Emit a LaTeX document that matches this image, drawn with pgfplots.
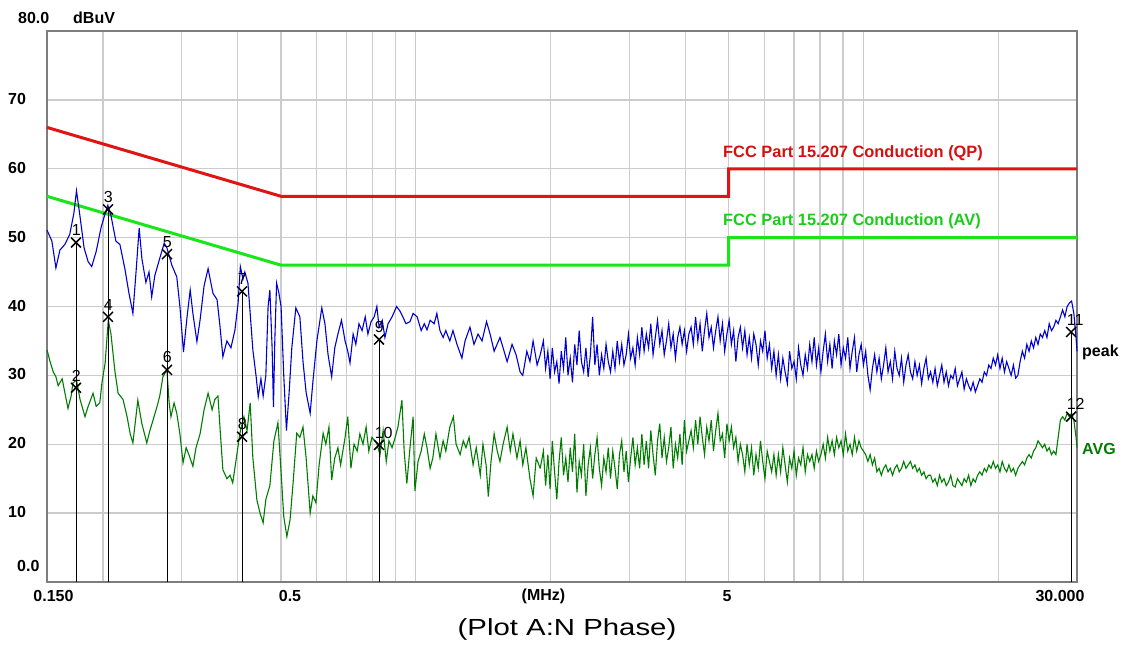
\documentclass[border=0pt]{standalone}
\usepackage{fontspec}
\setmainfont{Liberation Sans}
\usepackage{pgfplots}
\usepackage{pgfplotstable}
\pgfplotsset{compat=1.18}

\definecolor{limQP}{RGB}{225,20,20}
\definecolor{limAV}{RGB}{25,230,25}
\definecolor{txtQP}{RGB}{215,15,15}
\definecolor{txtAV}{RGB}{25,205,25}
\definecolor{peakblue}{RGB}{0,0,210}
\definecolor{avggreen}{RGB}{0,125,0}
\definecolor{gridgray}{RGB}{204,204,204}
\definecolor{framegray}{RGB}{125,125,125}

\newcommand\lbl{\fontsize{16}{16}\selectfont\bfseries}

% x values are log10(f / MHz)
\pgfplotstableread{
lg dB
-0.8239 51.1
-0.813 49.5
-0.804 45.6
-0.795 48.2
-0.784 49.0
-0.773 50.5
-0.764 53.5
-0.758 56.8
-0.750 53.0
-0.741 48.5
-0.732 46.5
-0.724 45.8
-0.714 48.0
-0.703 51.5
-0.694 53.5
-0.688 54.7
-0.681 53.2
-0.670 49.5
-0.661 49.0
-0.650 45.5
-0.641 42.0
-0.632 39.0
-0.625 45.0
-0.618 51.4
-0.612 47.0
-0.603 43.5
-0.596 45.0
-0.590 41.4
-0.583 44.5
-0.572 47.0
-0.562 49.2
-0.556 48.5
-0.545 46.0
-0.534 44.3
-0.527 40.0
-0.519 33.4
-0.511 38.5
-0.504 42.4
-0.498 39.0
-0.489 34.9
-0.482 38.0
-0.473 43.0
-0.464 45.5
-0.458 43.5
-0.453 41.9
-0.444 41.0
-0.438 37.5
-0.431 32.7
-0.422 35.0
-0.413 34.0
-0.404 36.6
-0.397 40.5
-0.392 45.8
-0.386 44.0
-0.382 45.0
-0.375 43.4
-0.370 39.0
-0.364 33.7
-0.357 30.0
-0.352 26.9
-0.346 29.5
-0.341 27.0
-0.335 30.0
-0.330 40.0
-0.326 42.4
-0.321 34.0
-0.318 25.4
-0.315 35.0
-0.311 43.4
-0.306 42.0
-0.301 40.0
-0.295 30.0
-0.289 22.0
-0.283 27.5
-0.277 34.0
-0.268 39.8
-0.259 38.5
-0.252 32.0
-0.245 27.5
-0.236 24.5
-0.230 29.0
-0.221 35.0
-0.210 39.8
-0.203 37.5
-0.196 33.0
-0.188 29.8
-0.181 34.0
-0.174 36.0
-0.166 38.0
-0.158 35.0
-0.152 33.5
-0.147 31.8
-0.140 36.0
-0.134 34.5
-0.127 37.5
-0.120 36.5
-0.113 38.5
-0.107 36.0
-0.100 37.8
-0.093 38.5
-0.087 40.0
-0.082 37.0
-0.075 38.0
-0.069 35.5
-0.062 37.5
-0.053 38.5
-0.043 40.0
-0.035 39.3
-0.029 38.5
-0.022 37.5
-0.013 37.8
-0.006 39.0
0.003 38.5
0.012 36.5
0.019 37.5
0.025 36.6
0.032 38.0
0.041 37.5
0.047 39.0
0.054 36.5
0.061 35.5
0.067 36.5
0.076 35.0
0.083 36.5
0.092 34.5
0.103 32.5
0.110 35.0
0.121 37.0
0.130 34.5
0.139 36.0
0.148 35.0
0.158 37.8
0.166 36.0
0.175 33.5
0.188 35.5
0.195 34.0
0.204 32.0
0.215 34.5
0.224 33.0
0.233 30.5
0.239 30.0
0.248 33.5
0.255 32.0
0.262 35.0
0.271 31.5
0.278 33.0
}\peaklow

\pgfplotstableread{
lg dB
-0.8239 33.7
-0.817 32.0
-0.810 30.5
-0.804 29.8
-0.799 28.5
-0.790 29.5
-0.784 27.5
-0.777 25.2
-0.770 27.0
-0.766 28.9
-0.758 29.3
-0.750 26.5
-0.739 24.0
-0.732 25.5
-0.721 27.4
-0.714 25.5
-0.706 26.0
-0.701 29.0
-0.694 31.8
-0.687 38.0
-0.681 36.0
-0.672 30.5
-0.665 27.4
-0.654 26.5
-0.645 24.0
-0.638 21.5
-0.632 20.2
-0.627 23.0
-0.621 26.4
-0.612 23.0
-0.601 20.2
-0.594 22.0
-0.587 23.5
-0.578 25.5
-0.572 27.0
-0.565 29.8
-0.556 30.8
-0.551 26.0
-0.547 24.0
-0.540 26.0
-0.534 24.5
-0.527 21.5
-0.520 17.3
-0.513 19.5
-0.507 18.5
-0.498 16.8
-0.491 19.5
-0.482 21.5
-0.473 25.0
-0.464 27.4
-0.455 25.0
-0.449 26.5
-0.442 27.0
-0.437 22.0
-0.431 16.3
-0.422 15.0
-0.415 15.5
-0.409 14.4
-0.402 17.5
-0.393 21.6
-0.384 24.0
-0.377 22.0
-0.370 26.0
-0.364 18.0
-0.355 11.9
-0.348 10.0
-0.341 8.6
-0.335 12.0
-0.326 14.0
-0.317 20.5
-0.308 23.1
-0.301 16.0
-0.295 9.5
-0.288 6.6
-0.281 9.0
-0.274 14.5
-0.266 21.6
-0.259 21.0
-0.252 22.5
-0.245 18.0
-0.236 10.0
-0.230 12.5
-0.223 11.5
-0.216 17.0
-0.207 21.6
-0.201 20.0
-0.194 22.5
-0.188 14.8
-0.181 18.0
-0.174 19.5
-0.168 17.0
-0.158 21.0
-0.152 24.0
-0.145 16.5
-0.138 20.0
-0.131 19.0
-0.125 21.5
-0.118 20.0
-0.111 22.5
-0.105 19.0
-0.098 21.0
-0.087 20.1
-0.080 18.5
-0.073 22.0
-0.066 17.5
-0.060 20.5
-0.053 19.5
-0.046 21.0
-0.040 22.5
-0.031 26.4
-0.026 19.0
-0.020 14.3
-0.013 19.5
-0.006 24.0
-0.002 13.2
0.005 17.5
0.012 19.0
0.019 21.5
0.025 19.5
0.032 16.5
0.038 18.0
0.045 21.5
0.054 18.0
0.061 20.5
0.067 19.0
0.076 22.5
0.084 24.0
0.090 20.0
0.099 18.5
0.106 20.5
0.112 19.5
0.119 21.0
0.128 17.0
0.135 19.5
0.144 15.5
0.150 20.0
0.157 17.0
0.162 12.4
0.168 17.5
0.175 21.5
0.182 19.0
0.188 17.5
0.195 20.0
0.204 22.5
0.211 19.0
0.217 21.5
0.226 18.0
0.233 20.5
0.239 17.0
0.246 19.5
0.255 15.0
0.262 12.5
0.269 18.0
0.278 16.5
}\avglow

% upper band, both detectors on one frequency grid
\pgfplotstableread{
lg peak avg
0.278 33.0 16.5
0.285 35.0 19.0
0.290 31.0 14.0
0.295 33.5 18.5
0.300 29.5 13.5
0.305 34.0 20.5
0.310 30.5 16.0
0.315 32.0 12.0
0.320 28.8 17.5
0.325 33.5 21.0
0.330 31.0 15.5
0.335 35.5 18.0
0.340 30.0 14.5
0.345 32.5 19.5
0.350 29.0 16.0
0.355 34.5 21.5
0.360 31.5 13.0
0.365 36.5 17.5
0.370 32.0 15.5
0.375 30.5 20.0
0.380 34.0 12.5
0.385 29.8 17.0
0.390 33.0 19.5
0.395 38.5 15.0
0.400 31.5 18.5
0.405 34.5 21.0
0.410 30.0 16.5
0.415 33.0 14.0
0.420 31.0 18.0
0.425 34.5 16.0
0.430 32.0 19.5
0.435 30.5 15.0
0.440 33.5 19.0
0.445 31.0 16.5
0.450 35.0 13.5
0.455 32.0 18.5
0.460 34.5 20.5
0.465 31.5 16.0
0.470 33.0 19.0
0.475 36.0 14.5
0.480 32.5 18.0
0.485 34.0 21.0
0.490 31.5 17.0
0.495 35.5 19.5
0.500 33.0 16.5
0.505 37.0 21.5
0.510 33.5 17.0
0.515 36.0 20.5
0.520 34.0 16.5
0.525 37.5 22.0
0.530 33.0 18.5
0.535 35.5 15.5
0.540 38.0 20.5
0.545 34.5 23.0
0.550 36.5 18.0
0.555 33.0 21.0
0.560 35.0 17.5
0.565 37.5 19.5
0.570 34.0 22.5
0.575 36.0 16.5
0.580 32.5 20.0
0.585 35.5 18.0
0.590 37.0 21.5
0.595 34.5 17.0
0.600 36.5 23.5
0.605 33.5 19.0
0.610 36.0 20.5
0.615 37.0 22.0
0.620 34.5 19.5
0.625 38.5 23.5
0.630 35.0 20.0
0.635 37.5 24.0
0.640 33.5 21.0
0.645 36.5 18.5
0.650 39.0 22.5
0.655 35.5 20.5
0.660 37.0 23.5
0.665 34.0 19.0
0.670 36.5 22.0
0.675 38.5 24.5
0.680 35.0 20.5
0.685 37.5 21.5
0.690 33.5 18.0
0.695 36.0 23.0
0.700 38.0 20.5
0.705 34.5 22.5
0.710 36.5 19.5
0.715 32.0 21.0
0.720 35.5 17.5
0.725 37.0 20.0
0.730 34.0 18.5
0.735 36.5 16.0
0.740 33.0 20.0
0.745 35.5 17.0
0.750 32.5 19.5
0.755 36.0 15.5
0.760 34.5 18.5
0.765 31.5 16.5
0.770 35.0 20.5
0.775 33.5 17.5
0.780 36.5 15.0
0.785 32.5 19.0
0.790 34.5 17.5
0.795 31.0 16.0
0.800 33.5 18.5
0.805 30.0 15.5
0.810 33.0 18.5
0.815 29.5 16.0
0.820 32.5 19.5
0.825 30.5 17.0
0.830 28.8 14.5
0.835 33.5 18.0
0.840 31.0 16.5
0.845 32.0 19.0
0.850 29.5 15.5
0.855 34.0 18.0
0.860 31.5 17.0
0.865 30.0 19.5
0.870 33.0 16.0
0.875 31.0 18.5
0.880 34.5 17.5
0.885 32.0 18.5
0.890 35.5 16.5
0.895 31.5 19.0
0.900 34.0 17.5
0.905 30.5 18.5
0.910 33.5 20.0
0.915 36.0 18.0
0.920 32.0 21.0
0.925 34.5 19.0
0.930 31.0 20.5
0.935 35.0 18.5
0.940 33.0 21.0
0.945 36.0 19.5
0.950 31.5 20.5
0.955 34.0 18.5
0.960 32.5 21.5
0.965 35.5 19.0
0.970 31.0 20.0
0.975 33.5 18.5
0.980 35.5 21.0
0.985 30.5 19.0
0.990 33.0 20.5
0.995 34.5 19.5
1.000 31.5 19.0
1.005 33.5 18.5
1.010 30.0 17.5
1.015 27.9 18.5
1.020 31.0 17.0
1.025 33.0 18.0
1.030 30.5 16.0
1.035 32.5 16.5
1.040 29.5 15.5
1.045 31.5 16.5
1.050 34.0 17.0
1.055 30.5 16.0
1.060 32.0 16.5
1.065 29.5 15.5
1.070 33.5 16.5
1.075 31.0 17.0
1.080 30.0 16.0
1.085 32.5 16.5
1.090 29.0 17.5
1.095 31.5 16.5
1.100 33.0 17.0
1.105 30.5 17.5
1.110 29.5 16.5
1.115 32.0 17.0
1.120 30.0 16.0
1.125 31.5 16.5
1.130 28.8 15.5
1.135 31.0 16.0
1.140 32.5 15.0
1.145 29.5 15.5
1.150 30.5 15.5
1.155 29.0 14.5
1.160 31.0 15.0
1.165 28.5 14.0
1.170 30.0 15.5
1.175 31.5 14.5
1.180 29.0 15.0
1.185 30.5 14.0
1.190 28.5 14.5
1.195 30.0 15.5
1.200 29.5 14.0
1.205 31.0 13.8
1.210 28.5 15.0
1.215 29.5 14.5
1.220 30.5 14.0
1.225 28.0 15.0
1.230 29.5 14.5
1.235 28.5 15.5
1.240 27.8 14.0
1.245 29.0 15.0
1.250 27.6 14.5
1.255 28.5 15.5
1.260 29.5 16.0
1.265 29.0 15.5
1.270 30.5 16.5
1.275 30.0 16.0
1.280 31.5 17.0
1.285 31.0 16.5
1.290 32.5 17.5
1.295 31.5 16.5
1.300 33.0 17.0
1.305 31.0 16.0
1.310 32.5 17.5
1.315 30.5 16.5
1.320 32.0 16.0
1.325 31.0 17.0
1.330 30.0 16.0
1.335 31.5 16.5
1.340 29.6 15.5
1.345 30.0 16.5
1.350 32.0 17.0
1.355 33.5 17.5
1.360 32.5 17.0
1.365 34.5 18.0
1.370 33.5 18.5
1.375 35.0 18.0
1.380 34.0 19.0
1.385 35.5 19.5
1.390 34.5 20.5
1.395 36.0 20.0
1.400 35.5 19.5
1.405 36.5 20.0
1.410 35.5 19.0
1.415 37.5 19.5
1.420 36.5 18.5
1.425 37.0 19.0
1.430 38.0 18.5
1.435 37.5 21.0
1.440 38.5 23.5
1.445 39.5 24.0
1.450 38.5 23.5
1.455 40.0 24.5
1.460 40.5 24.0
1.465 40.8 24.5
1.470 39.0 23.5
1.475 35.5 21.0
1.4771 33.5 19.5
}\hightab

\begin{document}
\begin{tikzpicture}
\fill[white] (-47pt,-66pt) rectangle (1078pt,582pt);
\begin{axis}[
  at={(0pt,0pt)}, anchor=south west,
  scale only axis, width=1030pt, height=551pt,
  xmin=-0.8239, xmax=1.4771, ymin=0, ymax=80,
  xtick={-0.6990,-0.5229,-0.3979,-0.3010,-0.2218,-0.1549,-0.0969,-0.0458,0,
         0.3010,0.4771,0.6021,0.6990,0.7782,0.8451,0.9031,0.9542,1,1.3010},
  ytick={10,20,...,70},
  xticklabels={}, yticklabels={},
  major tick length=0pt,
  xmajorgrids, ymajorgrids,
  major grid style={gridgray, line width=1.3pt},
  axis line style={framegray, line width=2.4pt},
  clip=false,
]
% limit lines
\addplot[limQP, line width=3pt] coordinates
  {(-0.8239,66) (-0.3010,56) (0.6990,56) (0.6990,60) (1.4771,60)};
\addplot[limAV, line width=3pt] coordinates
  {(-0.8239,56) (-0.3010,46) (0.6990,46) (0.6990,50) (1.4771,50)};
% average detector
\addplot[avggreen, line width=1.1pt] table[x=lg, y=dB] {\avglow};
\addplot[avggreen, line width=1.1pt] table[x=lg, y=avg] {\hightab};
% peak detector
\addplot[peakblue, line width=1.1pt] table[x=lg, y=dB] {\peaklow};
\addplot[peakblue, line width=1.1pt] table[x=lg, y=peak] {\hightab};
% markers
\addplot[black, line width=1pt, ycomb, mark=x, mark size=7pt,
  mark options={line width=1.5pt},
  nodes near coords, point meta=explicit symbolic,
  every node near coord/.append style={anchor=south west, xshift=-5pt,
    yshift=6pt, inner sep=0pt, text=black, font=\fontsize{16}{16}\selectfont}]
  table[x=lg, y=dB, meta=id] {
lg dB id
-0.7591 49.3 1
-0.7591 28.2 2
-0.6876 54.1 3
-0.6876 38.5 4
-0.5558 47.6 5
-0.5558 30.8 6
-0.3882 42.2 7
-0.3882 21.1 8
-0.0822 35.2 9
-0.0822 19.9 10
1.4639 36.3 11
1.4639 24.0 12
};
\end{axis}
% axis annotations
\node[anchor=west, inner sep=0pt, font=\lbl] at (-29pt,564pt) {80.0};
\node[anchor=west, inner sep=0pt, font=\lbl] at (26pt,564pt) {dBuV};
\foreach \v/\y in {70/483.1,60/414.3,50/345.4,40/276.5,30/207.6,20/138.8,10/69.9}
  \node[anchor=west, inner sep=0pt, font=\lbl] at (-39pt,\y pt) {\v};
\node[anchor=west, inner sep=0pt, font=\lbl] at (-30pt,16pt) {0.0};
\node[inner sep=0pt, font=\lbl] at (6.5pt,-14pt) {0.150};
\node[inner sep=0pt, font=\lbl] at (243pt,-14pt) {0.5};
\node[inner sep=0pt, font=\lbl] at (496.5pt,-14pt) {(MHz)};
\node[inner sep=0pt, font=\lbl] at (680pt,-14pt) {5};
\node[inner sep=0pt, font=\lbl] at (1013pt,-14pt) {30.000};
\node[anchor=base west, inner sep=0pt, text=txtQP,
  font=\fontsize{16.4}{16.4}\selectfont\bfseries] at (676pt,424pt)
  {FCC Part 15.207 Conduction (QP)};
\node[anchor=base west, inner sep=0pt, text=txtAV,
  font=\fontsize{16.4}{16.4}\selectfont\bfseries] at (676pt,356pt)
  {FCC Part 15.207 Conduction (AV)};
\node[anchor=west, inner sep=0pt, font=\lbl] at (1035pt,230pt) {peak};
\node[anchor=west, inner sep=0pt, font=\lbl, text=avggreen] at (1035pt,133pt) {AVG};
\node[inner sep=0pt, xscale=1.26, font=\fontsize{23.3}{23.3}\selectfont]
  at (520pt,-47pt) {(Plot A:N Phase)};
\pgfresetboundingbox
\path[use as bounding box] (-47pt,-66pt) rectangle (1078pt,582pt);
\end{tikzpicture}
\end{document}
